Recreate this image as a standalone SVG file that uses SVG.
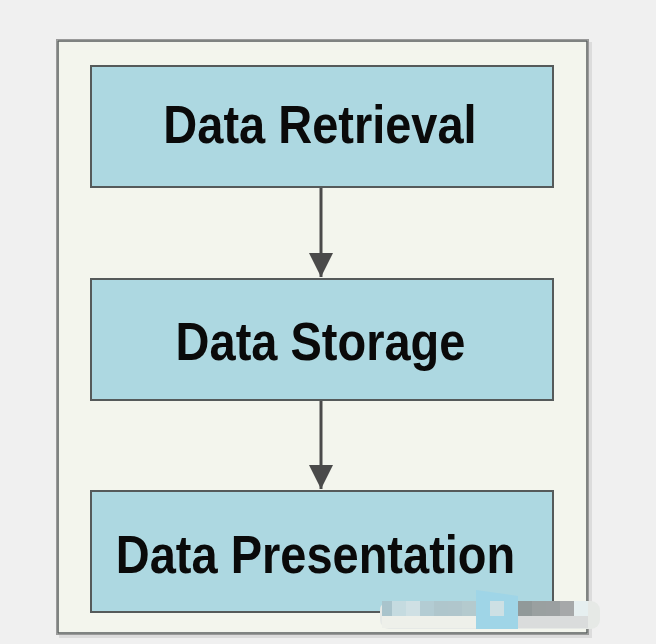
<svg xmlns="http://www.w3.org/2000/svg" width="656" height="644" viewBox="0 0 656 644">
<defs>
<style>
.box{fill:#add8e1;stroke:#555a5a;stroke-width:2}
.lbl{font-family:"Liberation Sans",Arial,sans-serif;font-weight:bold;font-size:47px;fill:#0a0a0a;text-anchor:middle}
.conn{stroke:#4a4a4a;stroke-width:3;fill:none}
</style>
<marker id="arr" markerWidth="8" markerHeight="8" refX="7.6" refY="3.8" orient="auto" markerUnits="strokeWidth" viewBox="0 0 7.6 7.6">
<path d="M0,0 L7.6,3.8 L0,7.6 Z" fill="#4a4a4a"/>
</marker>
</defs>
<rect width="656" height="644" fill="#f0f0f0"/>
<g id="panel">
<rect x="59" y="42" width="533" height="596" fill="#dcdcdc"/>
<rect x="56.5" y="39.5" width="532" height="595" fill="#f3f5ed" stroke="#9a9a9a" stroke-width="1"/>
<rect x="58" y="41" width="529" height="592" fill="none" stroke="#5a5e5e" stroke-width="1.5"/>
</g>
<g id="connectors">
<line class="conn" x1="321" y1="188" x2="321" y2="277" marker-end="url(#arr)"/>
<line class="conn" x1="321" y1="401" x2="321" y2="489" marker-end="url(#arr)"/>
</g>
<g id="node-retrieval">
<rect class="box" x="91" y="66" width="462" height="121"/>
<text class="lbl" transform="translate(320,143) scale(1,1.14)">Data Retrieval</text>
</g>
<g id="node-storage">
<rect class="box" x="91" y="279" width="462" height="121"/>
<text class="lbl" transform="translate(320.5,360) scale(1,1.14)">Data Storage</text>
</g>
<g id="node-presentation">
<rect class="box" x="91" y="491" width="462" height="121"/>
<text class="lbl" transform="translate(315.5,573) scale(1,1.14)">Data Presentation</text>
</g>
<g id="watermark">
<rect x="380" y="601" width="220" height="28" rx="9" fill="#e6e9e6"/>
<rect x="382" y="616" width="94" height="12" fill="#eef0ea"/>
<rect x="518" y="616" width="70" height="12" fill="#dadcdc"/>
<rect x="382" y="601" width="10" height="15" fill="#a9c4cc"/>
<rect x="392" y="601" width="14" height="15" fill="#c5dbe0"/>
<rect x="406" y="601" width="14" height="15" fill="#cfe0e4"/>
<rect x="420" y="601" width="14" height="15" fill="#b3ccd3"/>
<rect x="434" y="601" width="14" height="15" fill="#afc6cc"/>
<rect x="448" y="601" width="14" height="15" fill="#b0c6cc"/>
<rect x="462" y="601" width="14" height="15" fill="#b4cace"/>
<polygon points="476,590 518,596 518,629 476,629" fill="#9fd5e7"/>
<rect x="490" y="601" width="14" height="15" fill="#cde0e4"/>
<rect x="518" y="601" width="14" height="15" fill="#919999"/>
<rect x="532" y="601" width="14" height="15" fill="#9aa0a0"/>
<rect x="546" y="601" width="14" height="15" fill="#9ba0a1"/>
<rect x="560" y="601" width="14" height="15" fill="#a6a8a9"/>
<rect x="574" y="601" width="14" height="15" fill="#e6eff0"/>
</g>
</svg>
